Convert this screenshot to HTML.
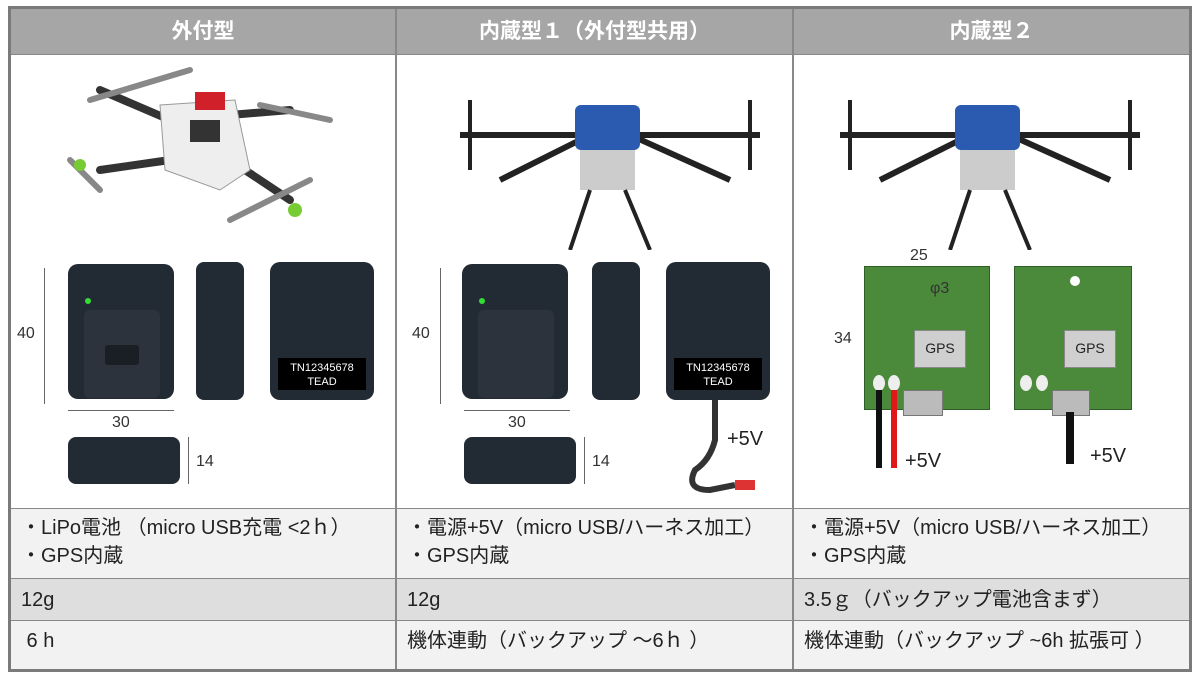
<!DOCTYPE html>
<html><head><meta charset="utf-8"><style>
body{margin:0;width:1200px;height:675px;background:#fff;position:relative;overflow:hidden;font-family:"Liberation Sans","Noto Sans CJK JP",sans-serif}
.a{position:absolute}
.h{background:#a6a6a6;color:#fff;font-weight:bold;font-size:21px;text-align:center;line-height:46px}
.t{font-size:20px;color:#222;padding-left:10px;box-sizing:border-box;line-height:24px;white-space:nowrap}
.box{background:#222a33;border-radius:10px}
.dim{font-size:16px;color:#333}
.pcb{background:#4a8a3a;border:1px solid #2f5f28}
.gps{background:#cfcfcf;border:1px solid #888;font-size:14px;text-align:center;line-height:34px;color:#222}
</style></head><body>
<div class="a" style="left:8px;top:6px;width:1184px;height:666px;background:#7a7a7a"></div>
<div class="a" style="left:11px;top:9px;width:1178px;height:660px;background:#fff"></div>
<div class="a h" style="left:11px;top:9px;width:384px;height:45px">外付型</div>
<div class="a h" style="left:397px;top:9px;width:395px;height:45px">内蔵型１（外付型共用）</div>
<div class="a h" style="left:794px;top:9px;width:395px;height:45px">内蔵型２</div>
<div class="a" style="left:11px;top:509px;width:1178px;height:69px;background:#f2f2f2"></div>
<div class="a" style="left:11px;top:579px;width:1178px;height:41px;background:#dedede"></div>
<div class="a" style="left:11px;top:621px;width:1178px;height:48px;background:#f2f2f2"></div>
<div class="a" style="left:11px;top:54px;width:1178px;height:1px;background:#888"></div>
<div class="a" style="left:11px;top:508px;width:1178px;height:1px;background:#888"></div>
<div class="a" style="left:11px;top:578px;width:1178px;height:1px;background:#888"></div>
<div class="a" style="left:11px;top:620px;width:1178px;height:1px;background:#888"></div>
<div class="a" style="left:395px;top:9px;width:2px;height:660px;background:#888"></div>
<div class="a" style="left:792px;top:9px;width:2px;height:660px;background:#888"></div>
<div class="a t" style="left:11px;top:514px;width:384px;line-height:28px">・LiPo電池 （micro USB充電 &lt;2ｈ）<br>・GPS内蔵</div>
<div class="a t" style="left:397px;top:514px;width:395px;line-height:28px">・電源+5V（micro USB/ハーネス加工）<br>・GPS内蔵</div>
<div class="a t" style="left:794px;top:514px;width:395px;line-height:28px">・電源+5V（micro USB/ハーネス加工）<br>・GPS内蔵</div>
<div class="a t" style="left:11px;top:588px;width:384px">12g</div>
<div class="a t" style="left:397px;top:588px;width:395px">12g</div>
<div class="a t" style="left:794px;top:588px;width:395px">3.5ｇ（バックアップ電池含まず）</div>
<div class="a t" style="left:11px;top:629px;width:384px">&nbsp;6 h</div>
<div class="a t" style="left:397px;top:629px;width:395px">機体連動（バックアップ ～6ｈ ）</div>
<div class="a t" style="left:794px;top:629px;width:395px">機体連動（バックアップ ~6h 拡張可 ）</div>

<svg class="a" style="left:60px;top:60px" width="290" height="180">
<g stroke="#333" stroke-width="8" stroke-linecap="round"><line x1="110" y1="60" x2="40" y2="30"/><line x1="170" y1="55" x2="230" y2="50"/><line x1="110" y1="100" x2="40" y2="110"/><line x1="170" y1="100" x2="230" y2="140"/></g>
<path d="M100 45 L175 40 L190 110 L160 130 L105 110Z" fill="#eee" stroke="#999"/>
<rect x="135" y="32" width="30" height="18" fill="#d0202a"/>
<rect x="130" y="60" width="30" height="22" fill="#333"/>
<g stroke="#888" stroke-width="6" stroke-linecap="round"><line x1="30" y1="40" x2="130" y2="10"/><line x1="200" y1="45" x2="270" y2="60"/><line x1="10" y1="100" x2="40" y2="130"/><line x1="170" y1="160" x2="250" y2="120"/></g>
<circle cx="20" cy="105" r="6" fill="#7c3"/><circle cx="235" cy="150" r="7" fill="#7c3"/>
</svg>
<div class="a box" style="left:68px;top:264px;width:106px;height:135px"></div>
<div class="a" style="left:84px;top:310px;width:76px;height:88px;background:#2c333d;border-radius:6px"></div>
<div class="a" style="left:105px;top:345px;width:34px;height:20px;background:#1a1f26;border-radius:3px"></div>
<div class="a" style="left:85px;top:298px;width:6px;height:6px;background:#3d3;border-radius:50%"></div>
<div class="a box" style="left:196px;top:262px;width:48px;height:138px;border-radius:8px"></div>
<div class="a box" style="left:270px;top:262px;width:104px;height:138px"></div>
<div class="a" style="left:278px;top:358px;width:88px;height:32px;background:#000;color:#fff;font-size:11px;text-align:center;line-height:14px;padding-top:3px;box-sizing:border-box">TN12345678<br>TEAD</div>
<div class="a box" style="left:68px;top:437px;width:112px;height:47px;border-radius:8px"></div>
<div class="a dim" style="left:17px;top:325px">40</div>
<div class="a dim" style="left:112px;top:414px">30</div>
<div class="a dim" style="left:196px;top:453px">14</div>
<div class="a" style="left:44px;top:268px;width:1px;height:136px;background:#666"></div>
<div class="a" style="left:68px;top:410px;width:106px;height:1px;background:#666"></div>
<div class="a" style="left:188px;top:437px;width:1px;height:47px;background:#666"></div>

<svg class="a" style="left:440px;top:60px" width="340" height="190">
<g stroke="#222" stroke-width="6"><line x1="20" y1="75" x2="320" y2="75"/><line x1="150" y1="75" x2="60" y2="120"/><line x1="190" y1="75" x2="290" y2="120"/></g>
<rect x="135" y="45" width="65" height="45" rx="6" fill="#2a5bb0"/>
<rect x="140" y="90" width="55" height="40" fill="#ccc"/>
<g stroke="#222" stroke-width="4"><line x1="150" y1="130" x2="130" y2="190"/><line x1="185" y1="130" x2="210" y2="190"/><line x1="30" y1="40" x2="30" y2="110"/><line x1="310" y1="40" x2="310" y2="110"/></g>
</svg>
<div class="a box" style="left:462px;top:264px;width:106px;height:135px"></div>
<div class="a" style="left:478px;top:310px;width:76px;height:88px;background:#2c333d;border-radius:6px"></div>
<div class="a" style="left:479px;top:298px;width:6px;height:6px;background:#3d3;border-radius:50%"></div>
<div class="a box" style="left:592px;top:262px;width:48px;height:138px;border-radius:8px"></div>
<div class="a box" style="left:666px;top:262px;width:104px;height:138px"></div>
<div class="a" style="left:674px;top:358px;width:88px;height:32px;background:#000;color:#fff;font-size:11px;text-align:center;line-height:14px;padding-top:3px;box-sizing:border-box">TN12345678<br>TEAD</div>
<div class="a box" style="left:464px;top:437px;width:112px;height:47px;border-radius:8px"></div>
<div class="a dim" style="left:412px;top:325px">40</div>
<div class="a dim" style="left:508px;top:414px">30</div>
<div class="a dim" style="left:592px;top:453px">14</div>
<div class="a" style="left:440px;top:268px;width:1px;height:136px;background:#666"></div>
<div class="a" style="left:464px;top:410px;width:106px;height:1px;background:#666"></div>
<div class="a" style="left:584px;top:437px;width:1px;height:47px;background:#666"></div>
<svg class="a" style="left:680px;top:400px" width="100" height="100"><path d="M35 0 L35 40 Q30 60 15 70 Q5 90 30 90 L55 85" stroke="#333" stroke-width="6" fill="none"/><rect x="55" y="80" width="20" height="10" fill="#d33"/></svg>
<div class="a" style="left:727px;top:428px;font-size:20px;color:#222">+5V</div>

<svg class="a" style="left:820px;top:60px" width="340" height="190">
<g stroke="#222" stroke-width="6"><line x1="20" y1="75" x2="320" y2="75"/><line x1="150" y1="75" x2="60" y2="120"/><line x1="190" y1="75" x2="290" y2="120"/></g>
<rect x="135" y="45" width="65" height="45" rx="6" fill="#2a5bb0"/>
<rect x="140" y="90" width="55" height="40" fill="#ccc"/>
<g stroke="#222" stroke-width="4"><line x1="150" y1="130" x2="130" y2="190"/><line x1="185" y1="130" x2="210" y2="190"/><line x1="30" y1="40" x2="30" y2="110"/><line x1="310" y1="40" x2="310" y2="110"/></g>
</svg>
<div class="a pcb" style="left:864px;top:266px;width:124px;height:142px"></div>
<div class="a pcb" style="left:1014px;top:266px;width:116px;height:142px"></div>
<div class="a gps" style="left:914px;top:330px;width:50px;height:36px">GPS</div>
<div class="a gps" style="left:1064px;top:330px;width:50px;height:36px">GPS</div>
<div class="a" style="left:903px;top:390px;width:38px;height:24px;background:#bbb;border:1px solid #777"></div>
<div class="a" style="left:1052px;top:390px;width:36px;height:24px;background:#bbb;border:1px solid #777"></div>
<div class="a" style="left:873px;top:375px;width:12px;height:16px;border-radius:50%;background:#eee"></div>
<div class="a" style="left:888px;top:375px;width:12px;height:16px;border-radius:50%;background:#eee"></div>
<div class="a" style="left:1020px;top:375px;width:12px;height:16px;border-radius:50%;background:#eee"></div>
<div class="a" style="left:1036px;top:375px;width:12px;height:16px;border-radius:50%;background:#eee"></div>
<div class="a" style="left:876px;top:390px;width:6px;height:78px;background:#111"></div>
<div class="a" style="left:891px;top:390px;width:6px;height:78px;background:#e01818"></div>
<div class="a" style="left:1066px;top:412px;width:8px;height:52px;background:#111"></div>
<div class="a" style="left:1070px;top:276px;width:10px;height:10px;border-radius:50%;background:#fff"></div>
<div class="a dim" style="left:910px;top:247px">25</div>
<div class="a dim" style="left:930px;top:280px">φ3</div>
<div class="a dim" style="left:834px;top:330px">34</div>
<div class="a" style="left:905px;top:450px;font-size:20px;color:#222">+5V</div>
<div class="a" style="left:1090px;top:445px;font-size:20px;color:#222">+5V</div>
</body></html>
